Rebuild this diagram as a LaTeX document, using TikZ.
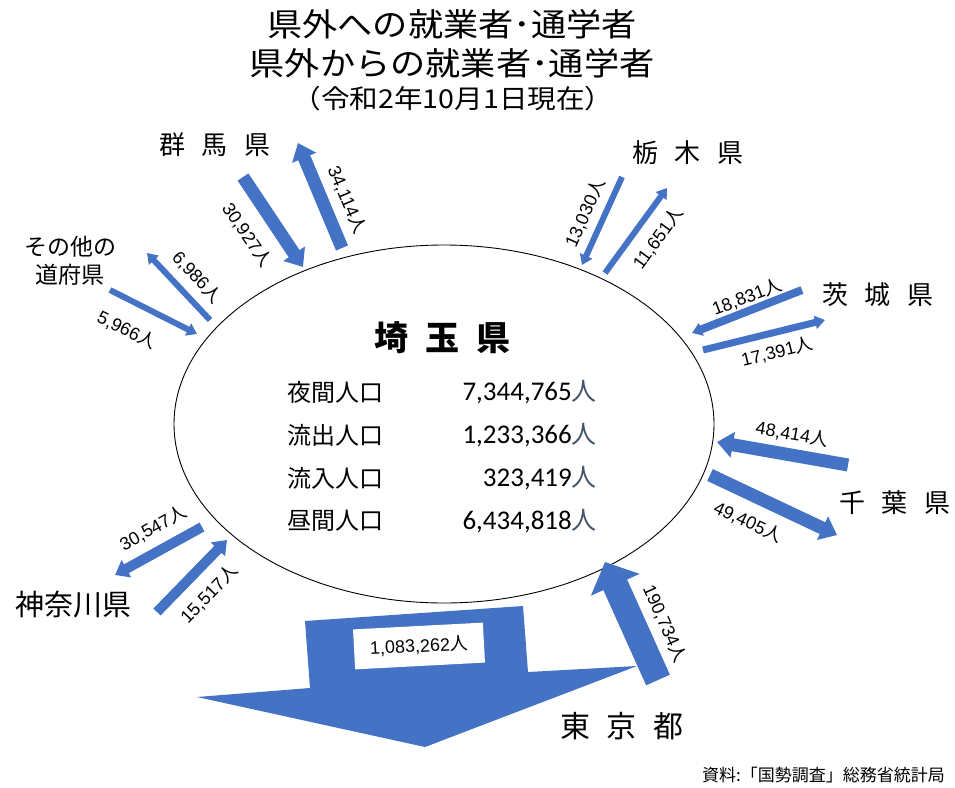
\documentclass[tikz,border=0pt]{standalone}
\usepackage{fontspec}
\setmainfont{Liberation Sans}
\newfontfamily\jp{Noto Sans CJK JP}
\newfontfamily\calib{Carlito}
\usetikzlibrary{shapes.geometric, arrows.meta}
\definecolor{flowBlue}{RGB}{68, 114, 196}
\definecolor{unitGrey}{RGB}{68, 84, 106}
\newcommand{\nin}[1]{#1{\jp 人}}
\newcommand{\kgap}{\hspace{17pt}}

\begin{document}
\begin{tikzpicture} [x=1pt, y=-1pt,
        flow/.style={draw=flowBlue, line width=#1},
        thin flow/.style={flow=6pt, -{Triangle[width=13pt, length=10pt]}},
        mid flow/.style={flow=10pt, -{Triangle[width=19pt, length=13pt]}},
        fat flow/.style={flow=13pt, -{Triangle[width=25pt, length=16pt]}},
        big flow/.style={flow=26pt, -{Triangle[width=52pt, length=25pt]}},
        num/.style={font=\fontsize{18}{18}\selectfont, inner sep=1pt},
        pref/.style={font=\jp\fontsize{26}{26}\selectfont, inner sep=0pt},
        title/.style={font=\jp\fontsize{32}{32}\selectfont, inner sep=0pt, xscale=1.1},
        stat/.style={font=\jp\fontsize{24}{24}\selectfont, inner sep=0pt},
        stat num/.style={font=\calib\fontsize{27}{27}\selectfont, inner sep=0pt, anchor=east},
        source/.style={font=\jp\fontsize{17}{17}\selectfont, inner sep=0pt, anchor=east}
    ]
    \fill[white] (0,0) rectangle (955,787);
    \useasboundingbox (0,0) rectangle (955,787);

    % titles
    \node[title] (title a) at (452,24) {県外への就業者･通学者};
    \node[title] (title b) at (452,63) {県外からの就業者･通学者};
    \node[title, font=\jp\fontsize{26}{26}\selectfont] (title c) at (453,99) {（令和2年10月1日現在）};

    % saitama
    \node[draw, ellipse, line width=0.9pt, minimum width=540pt, minimum height=358pt, inner sep=0pt] (saitama) at (444,424) {};
    \node[pref, font=\jp\bfseries\fontsize{34}{34}\selectfont] (saitama name) at (442,338) {埼\kgap 玉\kgap 県};
    \foreach \lab/\val [count=\i] in {夜間人口/{7,344,765}, 流出人口/{1,233,366}, 流入人口/{323,419}, 昼間人口/{6,434,818}} {
        \node[stat, anchor=west] (lab \i) at (287,{349+43*\i}) {\lab};
        \node[stat num] (val \i) at (597,{349+43*\i}) {\val{\jp\fontsize{25}{25}\selectfont\color{unitGrey}人}};
    }

    % prefectures
    \node[pref] (gunma) at (215,145) {群\kgap 馬\kgap 県};
    \node[pref, font=\jp\fontsize{23}{28}\selectfont, align=center] (other) at (70,261) {その他の\\道府県};
    \node[pref] (tochigi) at (688,153) {栃\kgap 木\kgap 県};
    \node[pref] (ibaraki) at (878,295) {茨\kgap 城\kgap 県};
    \node[pref] (chiba) at (895,503) {千\kgap 葉\kgap 県};
    \node[pref, font=\jp\fontsize{29}{29}\selectfont] (kanagawa) at (73,605) {神奈川県};
    \node[pref, font=\jp\fontsize{30}{30}\selectfont] (tokyo) at (622,726) {東\kgap 京\kgap 都};

    % flow ends
    \coordinate (gm in a) at (243,177);  \coordinate (gm in b) at (303,267);
    \coordinate (gm out a) at (342,248); \coordinate (gm out b) at (298,143);
    \coordinate (ot out a) at (210,320); \coordinate (ot out b) at (147,253);
    \coordinate (ot in a) at (110,290);  \coordinate (ot in b) at (197,334);
    \coordinate (tg in a) at (622,177);  \coordinate (tg in b) at (582,265);
    \coordinate (tg out a) at (605,273); \coordinate (tg out b) at (667,188);
    \coordinate (ib in a) at (802,290);  \coordinate (ib in b) at (692,333);
    \coordinate (ib out a) at (703,350); \coordinate (ib out b) at (825,320);
    \coordinate (cb in a) at (848,465);  \coordinate (cb in b) at (717,442);
    \coordinate (cb out a) at (710,475); \coordinate (cb out b) at (837,535);
    \coordinate (kn out a) at (202,527); \coordinate (kn out b) at (115,575);
    \coordinate (kn in a) at (157,612);  \coordinate (kn in b) at (227,540);
    \coordinate (tk in a) at (658,680);  \coordinate (tk in b) at (605,562);

    \draw[fat flow] (gm in a) -- (gm in b);
    \draw[fat flow] (gm out a) -- (gm out b);
    \draw[thin flow] (ot out a) -- (ot out b);
    \draw[thin flow] (ot in a) -- (ot in b);
    \draw[thin flow] (tg in a) -- (tg in b);
    \draw[thin flow] (tg out a) -- (tg out b);
    \draw[thin flow, line width=8pt] (ib in a) -- (ib in b);
    \draw[thin flow, line width=7pt] (ib out a) -- (ib out b);
    \draw[fat flow] (cb in a) -- (cb in b);
    \draw[fat flow] (cb out a) -- (cb out b);
    \draw[mid flow] (kn out a) -- (kn out b);
    \draw[mid flow] (kn in a) -- (kn in b);
    \draw[big flow] (tk in a) -- (tk in b);

    % tokyo outflow
    \fill[flowBlue] (305,621) -- (523,606) -- (528,672) -- (637,666) -- (425,747) -- (197,697) -- (310,688) -- cycle;
    \node[num, fill=white, rotate=3, minimum width=130pt, minimum height=40pt] (l tk out) at (419,646) {\nin{1,083,262}};

    % flow labels
    \node[num, rotate=-56] (l gm in) at (247,235) {\nin{30,927}};
    \node[num, rotate=-67] (l gm out) at (347,200) {\nin{34,114}};
    \node[num, rotate=-47] (l ot out) at (197,277) {\nin{6,986}};
    \node[num, rotate=-26] (l ot in) at (127,330) {\nin{5,966}};
    \node[num, rotate=66] (l tg in) at (585,213) {\nin{13,030}};
    \node[num, rotate=54] (l tg out) at (658,238) {\nin{11,651}};
    \node[num, rotate=21] (l ib in) at (747,297) {\nin{18,831}};
    \node[num, rotate=14] (l ib out) at (777,352) {\nin{17,391}};
    \node[num, rotate=-10] (l cb in) at (792,434) {\nin{48,414}};
    \node[num, rotate=-25] (l cb out) at (748,522) {\nin{49,405}};
    \node[num, rotate=29] (l kn out) at (153,528) {\nin{30,547}};
    \node[num, rotate=46] (l kn in) at (209,594) {\nin{15,517}};
    \node[num, rotate=-66] (l tk in) at (665,624) {\nin{190,734}};

    \node[source] (src) at (945,775) {資料:「国勢調査」総務省統計局};
\end{tikzpicture}
\end{document}
